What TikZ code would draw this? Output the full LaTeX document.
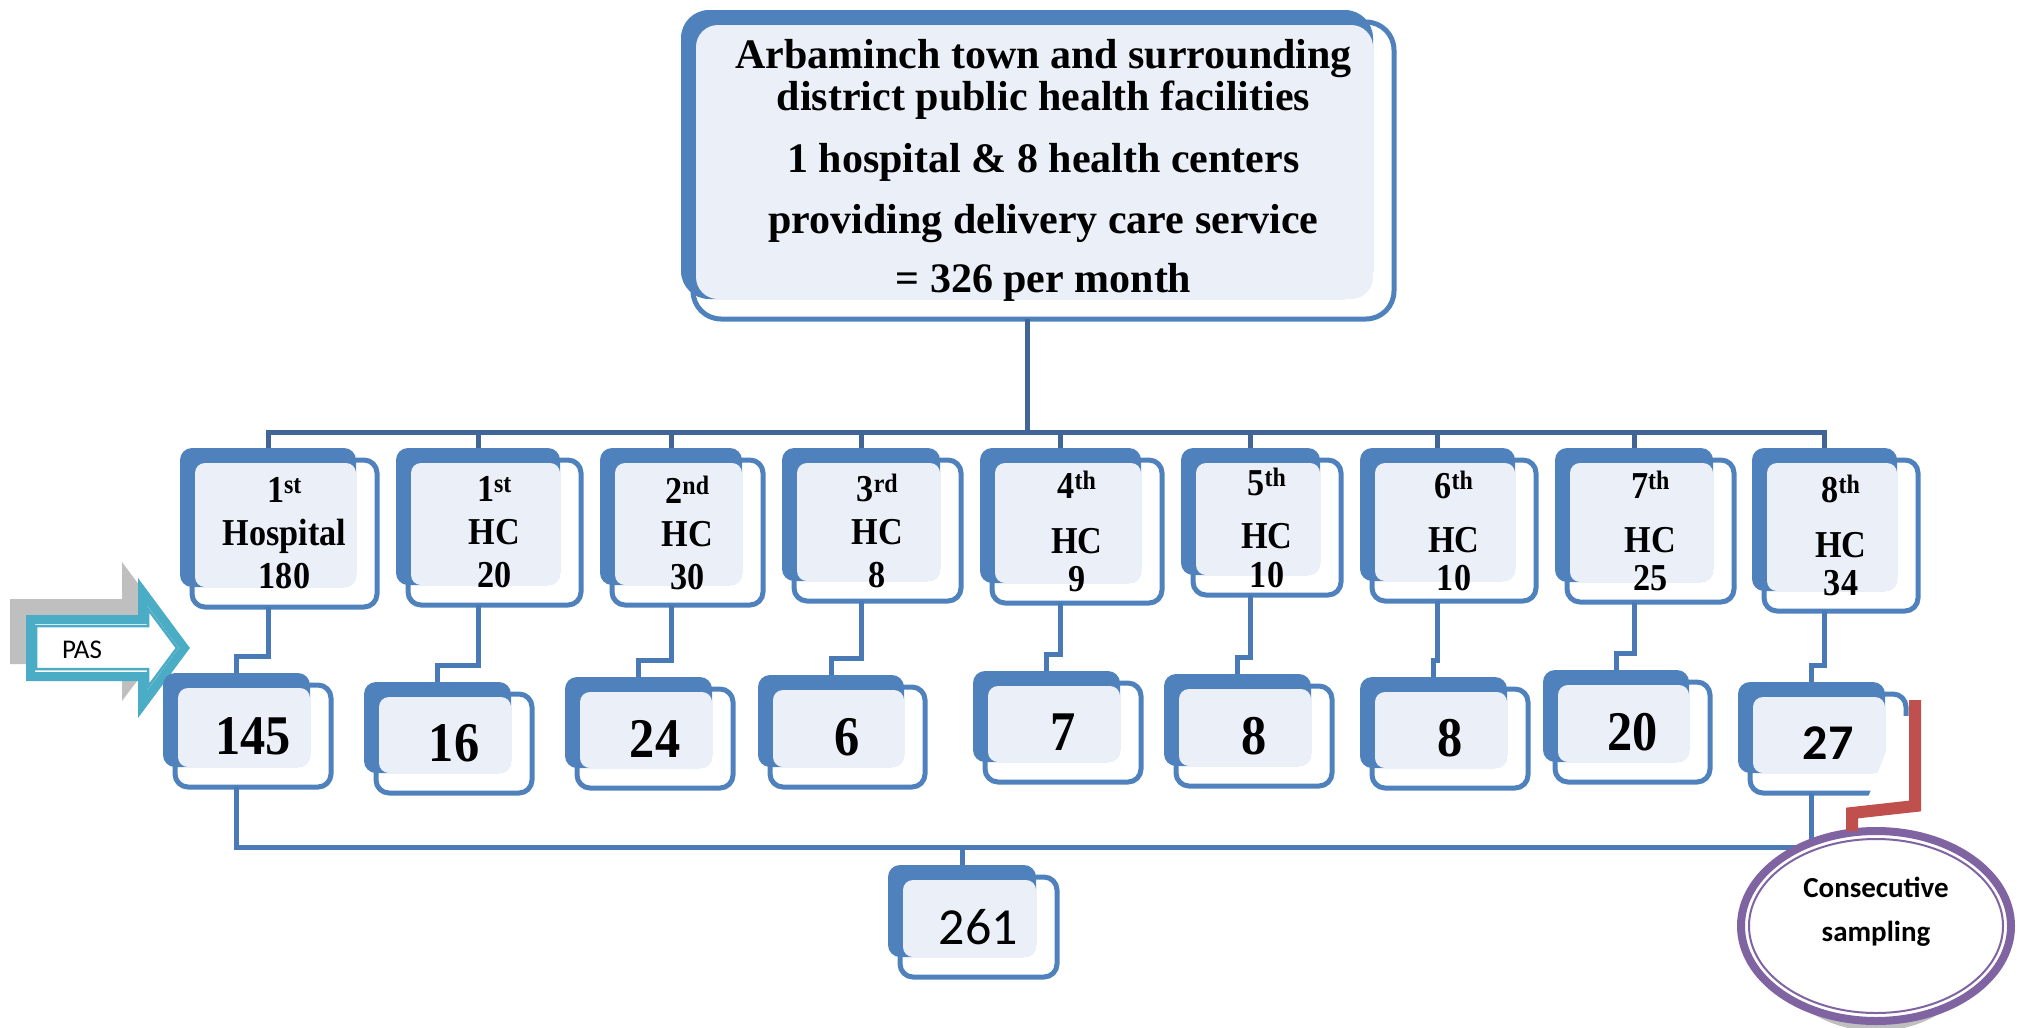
\documentclass[tikz,border=0pt]{standalone}
\usepackage{fontspec}
\setmainfont{Liberation Serif}
\newfontfamily\condserif[FakeStretch=0.9]{Liberation Serif}
\newfontfamily\calibrifont{Carlito}
\usetikzlibrary{shapes.geometric}

\definecolor{boxblue}{RGB}{79,129,189}
\definecolor{boxface}{RGB}{235,240,248}
\definecolor{treedark}{RGB}{64,101,150}
\definecolor{linkblue}{RGB}{74,122,182}
\definecolor{pasteal}{RGB}{75,172,198}
\definecolor{pasgray}{RGB}{191,191,191}
\definecolor{linkred}{RGB}{192,80,77}
\definecolor{sampviolet}{RGB}{128,100,162}

\newcommand{\topfont}{\bfseries\fontsize{42}{42}\selectfont}
\newcommand{\unitfont}{\condserif\bfseries\fontsize{38}{43}\selectfont}
\newcommand{\countfont}{\condserif\bfseries\fontsize{56}{60}\selectfont}
\newcommand{\totalfont}{\calibrifont\fontsize{52}{60}\selectfont}

% One box: front frame, back plate on top, shared face; #2..#5 = back plate corners
\newcommand{\orgbox}[6]{%
  \filldraw[boxframe] ({#2+12},{#3+12}) rectangle ({#4+21},{#5+20});
  \fill[boxplate] (#2,#3) rectangle (#4,#5);
  \fill[boxshade] ({#2+15},{#3+15}) rectangle (#4,#5);
  \coordinate (#1-n) at ({(#2+#4)/2},#3);
  \coordinate (#1-s) at ({(#2+#4)/2},{#5+20});
  \node[boxtext] (#1) at ({(#2+#4)/2+16.5},{(#3+#5)/2+16}) {#6};
}

\begin{document}
\begin{tikzpicture}[x=1pt, y=-1pt,
  boxframe/.style={draw=boxblue, fill=white, line width=5pt, rounded corners=13pt},
  boxplate/.style={fill=boxblue, rounded corners=12pt},
  boxshade/.style={fill=boxface, rounded corners=10pt},
  boxtext/.style={align=center, inner sep=0pt, text=black, font=\unitfont},
  treeline/.style={draw=treedark, line width=5pt},
  linkline/.style={draw=linkblue, line width=5pt},
  redlink/.style={draw=linkred, line width=12pt}]
\useasboundingbox (0,0) rectangle (2022,1028);

% PAS arrow: grey shadow, teal outline, inner rule
\fill[pasgray] (10,599) -- (122,599) -- (122,562) -- (174,632) -- (122,701) -- (122,664) -- (10,664) -- cycle;
\filldraw[draw=pasteal, fill=white, line width=9pt] (30.5,619.5) -- (142.5,619.5) -- (142.5,591.6) -- (184.3,648) -- (142.5,704.4) -- (142.5,676.5) -- (30.5,676.5) -- cycle;
\draw[pasteal, line width=2.5pt] (36,626) -- (148,626) -- (148,609) -- (177,648) -- (148,687) -- (148,669) -- (36,669) -- cycle;
\node[font=\calibrifont\fontsize{27}{27}\selectfont] (pas) at (82,650) {PAS};

% Top box
\begin{scope}[boxframe/.append style={rounded corners=28pt},
  boxplate/.append style={rounded corners=28pt},
  boxshade/.append style={rounded corners=22pt},
  boxtext/.append style={font=\topfont}]
  \orgbox{top}{681}{10}{1373}{299}{Arbaminch town and surrounding\\ district public health facilities\\[20pt] 1 hospital \& 8 health centers\\[19pt] providing delivery care service\\[17pt] = 326 per month}
\end{scope}

% Facilities
\orgbox{h1}{180}{448}{356}{587}{1\textsuperscript{st}\\ Hospital\\ 180}
\orgbox{h2}{396}{448}{560}{585}{1\textsuperscript{st}\\ HC\\ 20}
\orgbox{h3}{600}{448}{742}{585}{2\textsuperscript{nd}\\ HC\\ 30}
\orgbox{h4}{782}{448}{940}{581}{3\textsuperscript{rd}\\ HC\\ 8}
\orgbox{h5}{980}{448}{1141}{583}{4\textsuperscript{th}\\[12pt] HC\\[-5pt] 9}
\orgbox{h6}{1181}{448}{1320}{575}{5\textsuperscript{th}\\[10pt] HC\\[-4pt] 10}
\orgbox{h7}{1360}{448}{1515}{581}{6\textsuperscript{th}\\[11pt] HC\\[-5pt] 10}
\orgbox{h8}{1555}{448}{1713}{582}{7\textsuperscript{th}\\[11pt] HC\\[-5pt] 25}
\orgbox{h9}{1752}{448}{1897}{591}{8\textsuperscript{th}\\[12pt] HC\\[-5pt] 34}

% Sampled counts
\begin{scope}[boxtext/.append style={font=\countfont}]
  \orgbox{n1}{163}{673}{310}{767}{145}
  \orgbox{n2}{364}{682}{511}{773}{16}
  \orgbox{n3}{565}{677}{712}{768}{24}
  \orgbox{n4}{758}{675}{904}{767}{6}
  \orgbox{n5}{973}{671}{1120}{762}{7}
  \orgbox{n6}{1164}{674}{1311}{766}{8}
  \orgbox{n7}{1360}{677}{1507}{768}{8}
  \orgbox{n8}{1543}{670}{1689}{762}{20}
  \orgbox{n9}{1738}{682}{1885}{773}{\calibrifont\fontsize{50}{60}\selectfont 27}
\end{scope}

% Total
\begin{scope}[boxtext/.append style={font=\totalfont}]
  \orgbox{tot}{888}{865}{1036}{957}{261}
\end{scope}

% Tree from top box to facilities
\draw[treeline] (top-s) -- ++(0,113);
\draw[treeline] (h1-n) -- ++(0,-16) -| (h9-n);
\draw[treeline] (h2-n) -- ++(0,-16);
\draw[treeline] (h3-n) -- ++(0,-16);
\draw[treeline] (h4-n) -- ++(0,-16);
\draw[treeline] (h5-n) -- ++(0,-16);
\draw[treeline] (h6-n) -- ++(0,-16);
\draw[treeline] (h7-n) -- ++(0,-16);
\draw[treeline] (h8-n) -- ++(0,-16);

% Facility to count
\draw[linkline] (h1-s) |- ([yshift=17pt]n1-n) -- (n1-n);
\draw[linkline] (h2-s) |- ([yshift=17pt]n2-n) -- (n2-n);
\draw[linkline] (h3-s) |- ([yshift=17pt]n3-n) -- (n3-n);
\draw[linkline] (h4-s) |- ([yshift=17pt]n4-n) -- (n4-n);
\draw[linkline] (h5-s) |- ([yshift=17pt]n5-n) -- (n5-n);
\draw[linkline] (h6-s) |- ([yshift=17pt]n6-n) -- (n6-n);
\draw[linkline] (h7-s) |- ([yshift=17pt]n7-n) -- (n7-n);
\draw[linkline] (h8-s) |- ([yshift=17pt]n8-n) -- (n8-n);
\draw[linkline] (h9-s) |- ([yshift=17pt]n9-n) -- (n9-n);

% Counts to total
\draw[linkline] (n1-s) |- ([yshift=18pt]tot-n) -| (n9-s);
\draw[linkline] (tot-n) -- ++(0,-18);

% White clip left on the last count box
\fill[white] (1900,716) -- (1932,716) -- (1932,800) -- (1867,800) -- cycle;

% Sampling note
\fill[black!25] (1876,936) ellipse [x radius=110pt, y radius=95pt];
\node[ellipse, draw=sampviolet, line width=8pt, fill=white, minimum width=270pt, minimum height=190pt, inner sep=0pt] (samp) at (1876,926) {};
\draw[sampviolet, line width=2pt] (samp.center) ellipse [x radius=127pt, y radius=87pt];
\node[align=center, font=\calibrifont\bfseries\fontsize{29}{44}\selectfont] (samplabel) at ([yshift=14pt]samp.center) {Consecutive\\ sampling};

\coordinate (linktop) at (1915,700);
\draw[redlink] (linktop) -- (1915,806) -- (1852,813) -- ([xshift=-24pt,yshift=-4pt]samp.north);
\end{tikzpicture}
\end{document}
